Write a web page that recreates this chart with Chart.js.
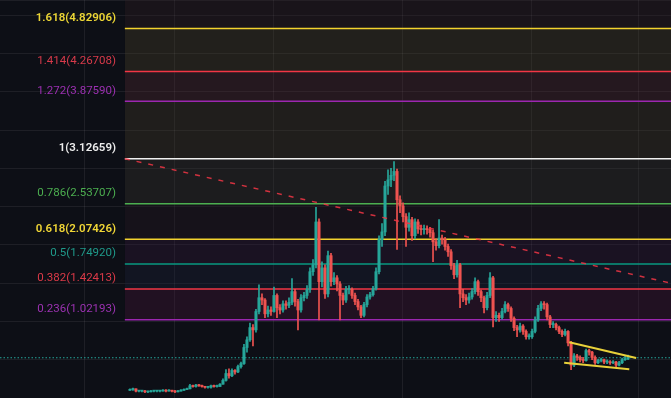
<!DOCTYPE html>
<html>
<head>
<meta charset="utf-8">
<script src="https://cdn.jsdelivr.net/npm/chart.js@4.4.0/dist/chart.umd.min.js"></script>
<style>
  html, body { margin: 0; padding: 0; background: #0d0f16; }
  #wrap { width: 671px; height: 398px; }
</style>
</head>
<body>
<div id="wrap"><canvas id="chart" width="671" height="398"></canvas></div>
<script>
// candle closes, one per bar (open = previous close)
const firstOpen = 0.10;
const closes = [
  0.11, 0.12, 0.09, 0.09, 0.09, 0.08, 0.08, 0.09, 0.09, 0.09,
  0.09, 0.10, 0.09, 0.10, 0.09, 0.08, 0.09, 0.10, 0.11, 0.12,
  0.16, 0.15, 0.17, 0.16, 0.15, 0.14, 0.14, 0.16, 0.15, 0.15,
  0.18, 0.23, 0.32, 0.29, 0.36, 0.34, 0.41, 0.45, 0.66, 0.76,
  0.92, 0.89, 1.13, 1.31, 1.28, 1.10, 1.15, 1.13, 1.34, 1.18,
  1.15, 1.23, 1.21, 1.25, 1.39, 1.26, 1.15, 1.31, 1.34, 1.42,
  1.65, 1.74, 2.30, 1.52, 1.70, 1.36, 1.86, 1.52, 1.57, 1.49,
  1.34, 1.28, 1.42, 1.42, 1.34, 1.26, 1.19, 1.08, 1.22, 1.32,
  1.35, 1.43, 1.65, 2.07, 2.17, 2.77, 2.85, 2.91, 2.96, 2.59,
  2.51, 2.37, 2.23, 2.33, 2.12, 2.30, 2.21, 2.20, 2.21, 2.20,
  2.16, 2.04, 1.99, 2.09, 2.07, 1.98, 1.91, 1.73, 1.61, 1.74,
  1.36, 1.31, 1.28, 1.32, 1.39, 1.52, 1.39, 1.31, 1.18, 1.34,
  1.57, 1.05, 1.08, 1.05, 1.13, 1.22, 1.17, 1.04, 0.92, 0.89,
  0.94, 0.87, 0.80, 0.80, 0.87, 1.02, 1.17, 1.23, 1.22, 1.06,
  0.96, 0.96, 0.92, 0.87, 0.83, 0.87, 0.72, 0.43, 0.55, 0.53,
  0.50, 0.49, 0.62, 0.60, 0.53, 0.46, 0.49, 0.50, 0.47, 0.47,
  0.46, 0.47, 0.43, 0.46, 0.50, 0.51, 0.53
];
const highs = [
  0.12, 0.13, 0.12, 0.10, 0.10, 0.10, 0.09, 0.10, 0.10, 0.10,
  0.10, 0.11, 0.11, 0.11, 0.10, 0.10, 0.10, 0.11, 0.12, 0.13,
  0.18, 0.17, 0.18, 0.18, 0.17, 0.15, 0.15, 0.17, 0.17, 0.17,
  0.19, 0.25, 0.37, 0.38, 0.38, 0.37, 0.43, 0.47, 0.70, 0.80,
  0.98, 0.96, 1.16, 1.48, 1.36, 1.30, 1.20, 1.19, 1.45, 1.36,
  1.22, 1.27, 1.27, 1.31, 1.56, 1.42, 1.29, 1.35, 1.38, 1.47,
  1.70, 1.81, 2.49, 2.34, 1.78, 1.74, 1.92, 1.89, 1.64, 1.60,
  1.52, 1.37, 1.46, 1.47, 1.44, 1.37, 1.29, 1.21, 1.25, 1.35,
  1.38, 1.46, 1.70, 2.12, 2.28, 2.83, 2.98, 3.00, 3.09, 2.99,
  2.64, 2.55, 2.41, 2.42, 2.36, 2.34, 2.33, 2.26, 2.26, 2.25,
  2.23, 2.19, 2.08, 2.33, 2.13, 2.10, 2.01, 1.94, 1.76, 1.80,
  1.76, 1.42, 1.35, 1.37, 1.43, 1.57, 1.54, 1.41, 1.33, 1.38,
  1.64, 1.59, 1.13, 1.11, 1.17, 1.26, 1.24, 1.19, 1.06, 0.95,
  0.98, 0.96, 0.89, 0.84, 0.90, 1.06, 1.21, 1.26, 1.26, 1.24,
  1.08, 1.00, 0.98, 0.94, 0.89, 0.90, 0.88, 0.74, 0.58, 0.57,
  0.55, 0.53, 0.64, 0.64, 0.61, 0.55, 0.51, 0.52, 0.51, 0.50,
  0.49, 0.49, 0.48, 0.48, 0.52, 0.55, 0.56
];
const lows = [
  0.10, 0.10, 0.08, 0.08, 0.08, 0.07, 0.07, 0.08, 0.08, 0.08,
  0.08, 0.09, 0.08, 0.09, 0.08, 0.07, 0.08, 0.09, 0.10, 0.11,
  0.12, 0.14, 0.14, 0.15, 0.14, 0.13, 0.13, 0.13, 0.14, 0.14,
  0.15, 0.18, 0.22, 0.26, 0.28, 0.31, 0.33, 0.39, 0.44, 0.60,
  0.74, 0.68, 0.86, 1.10, 1.22, 1.05, 1.06, 1.08, 1.12, 1.05,
  1.10, 1.12, 1.16, 1.18, 1.22, 1.20, 0.89, 1.12, 1.27, 1.30,
  1.38, 1.60, 1.70, 1.02, 1.45, 1.30, 1.32, 1.46, 1.48, 1.40,
  1.02, 1.22, 1.25, 1.36, 1.30, 1.22, 1.15, 1.05, 1.06, 1.19,
  1.29, 1.33, 1.41, 1.62, 1.98, 2.12, 2.66, 2.76, 2.84, 1.94,
  2.42, 2.30, 1.98, 2.18, 2.06, 2.08, 2.15, 2.13, 2.14, 2.14,
  2.10, 1.78, 1.93, 1.96, 2.01, 1.93, 1.85, 1.68, 1.56, 1.58,
  1.18, 1.26, 1.22, 1.24, 1.29, 1.36, 1.34, 1.26, 1.11, 1.15,
  1.31, 0.93, 1.00, 1.00, 1.03, 1.11, 1.13, 1.00, 0.88, 0.80,
  0.86, 0.83, 0.77, 0.77, 0.78, 0.85, 1.00, 1.14, 1.16, 1.02,
  0.92, 0.92, 0.89, 0.84, 0.80, 0.81, 0.68, 0.37, 0.41, 0.49,
  0.47, 0.46, 0.48, 0.56, 0.50, 0.44, 0.45, 0.47, 0.45, 0.45,
  0.44, 0.45, 0.41, 0.42, 0.45, 0.49, 0.50
];

// fibonacci levels drawn on the chart
const fibRatios = [1.618, 1.414, 1.272, 1, 0.786, 0.618, 0.5, 0.382, 0.236];
const fibPrices = [4.82906, 4.26708, 3.87590, 3.12659, 2.53707, 2.07426, 1.74920, 1.42413, 1.02193];
const fibStart = -1.7;   // bar index where the fib tool is anchored
const fibEnd = 200;      // the tool extends to the right past the last bar

// trend line, wedge and last price
const trendLine = [{ x: -1.7, y: 3.12659 }, { x: 180.3, y: 1.50 }];
const wedgeUpper = [{ x: 146.4, y: 0.728 }, { x: 168.7, y: 0.523 }];
const wedgeLower = [{ x: 144.7, y: 0.461 }, { x: 166.4, y: 0.375 }];
const lastPrice = 0.526;

// time axis divisions (bar index of each vertical grid line)
const timeGrid = [-0.3, 29.7, 65.7, 116, 151.7];
const xMin = -43.3, xMax = 180.3;

const UP = "#26a69a";
const DOWN = "#ef5350";
const lineColors = ["#f2d22e", "#f23645", "#9c27b0", "#f0f0f0", "#4caf50", "#f2d22e", "#089981", "#f23645", "#9c27b0"];
const labelColors = ["#ecd635", "#d83a4a", "#9c30b2", "#ececec", "#4caf50", "#f0d636", "#1f9a8a", "#dc3a48", "#9c32b2"];
const zoneColors = [
   "rgba(53, 32, 35, 0.3)",
   "rgba(83, 72, 42, 0.3)",
   "rgba(93, 45, 52, 0.3)",
   "rgba(76, 65, 42, 0.3)",
   "rgba(63, 58, 49, 0.3)",
   "rgba(43, 28, 35, 0.3)",
   "rgba(56, 28, 62, 0.3)",
   "rgba(30, 35, 62, 0.3)",
   "rgba(80, 22, 62, 0.3)",
];

const opens = closes.map((c, i) => (i === 0 ? firstOpen : closes[i - 1]));
const candleColors = closes.map((c, i) => (c >= opens[i] ? UP : DOWN));

const fibDatasets = fibRatios.map((r, i) => ({
   type: "line",
   data: [
      { x: fibStart, y: fibPrices[i] },
      { x: fibEnd, y: fibPrices[i] },
   ],
   borderColor: lineColors[i],
   borderWidth: 1.5,
   pointRadius: 0,
   fill: i === 0 ? "end" : "-1",
   backgroundColor: zoneColors[i],
   order: 5,
}));

const fibLabels = {
   id: "fibLabels",
   beforeDraw(chart) {
      const ctx = chart.ctx;
      ctx.save();
      ctx.fillStyle = "#0d0f16";
      ctx.fillRect(0, 0, chart.width, chart.height);
      ctx.restore();
   },
   afterDatasetsDraw(chart) {
      const ctx = chart.ctx;
      const y = chart.scales.y;
      ctx.save();
      ctx.textAlign = "right";
      ctx.textBaseline = "middle";
      fibRatios.forEach((r, i) => {
         const strong = r === 1.618 || r === 1 || r === 0.618;
         ctx.font = (strong ? "600 " : "") + "11.5px Roboto";
         ctx.fillStyle = labelColors[i];
         ctx.fillText(`${r}(${fibPrices[i].toFixed(5)})`, 116, y.getPixelForValue(fibPrices[i]) - 10.5);
      });
      ctx.restore();
   },
};

new Chart(document.getElementById("chart"), {
   type: "bar",
   data: {
      datasets: [
         ...fibDatasets,
         {
            type: "line",
            data: [
               { x: xMin, y: lastPrice },
               { x: xMax, y: lastPrice },
            ],
            borderColor: UP,
            borderWidth: 1.2,
            borderDash: [1.5, 2],
            pointRadius: 0,
            fill: false,
            order: 4,
         },
         {
            type: "bar",
            data: closes.map((c, i) => ({ x: i, y: [lows[i], highs[i]] })),
            backgroundColor: candleColors,
            barThickness: 1,
            grouped: false,
            order: 2,
         },
         {
            type: "bar",
            data: closes.map((c, i) => ({ x: i, y: [opens[i], c] })),
            backgroundColor: candleColors,
            barThickness: 2.4,
            minBarLength: 1,
            grouped: false,
            order: 1,
         },
         {
            type: "line",
            data: trendLine,
            borderColor: "rgba(242, 54, 69, 0.85)",
            borderWidth: 1.5,
            borderDash: [5, 7],
            pointRadius: 0,
            fill: false,
            order: 0,
         },
         {
            type: "line",
            data: wedgeUpper,
            borderColor: "#e8d13a",
            borderWidth: 2,
            pointRadius: 0,
            fill: false,
            order: 0,
         },
         {
            type: "line",
            data: wedgeLower,
            borderColor: "#e8d13a",
            borderWidth: 2,
            pointRadius: 0,
            fill: false,
            order: 0,
         },
      ],
   },
   options: {
      responsive: false,
      animation: false,
      layout: { padding: 0 },
      plugins: {
         legend: { display: false },
         tooltip: { enabled: false },
      },
      scales: {
         x: {
            type: "linear",
            min: xMin,
            max: xMax,
            offset: false,
            afterBuildTicks: (axis) => {
               axis.ticks = timeGrid.map((v) => ({ value: v }));
            },
            ticks: { display: false },
            border: { display: false },
            grid: { color: "rgba(255, 255, 255, 0.07)", drawTicks: false },
         },
         y: {
            min: 0,
            max: 5.2,
            ticks: { display: false, stepSize: 0.5 },
            border: { display: false },
            grid: { color: "rgba(255, 255, 255, 0.07)", drawTicks: false },
         },
      },
   },
   plugins: [fibLabels],
});
</script>
</body>
</html>
